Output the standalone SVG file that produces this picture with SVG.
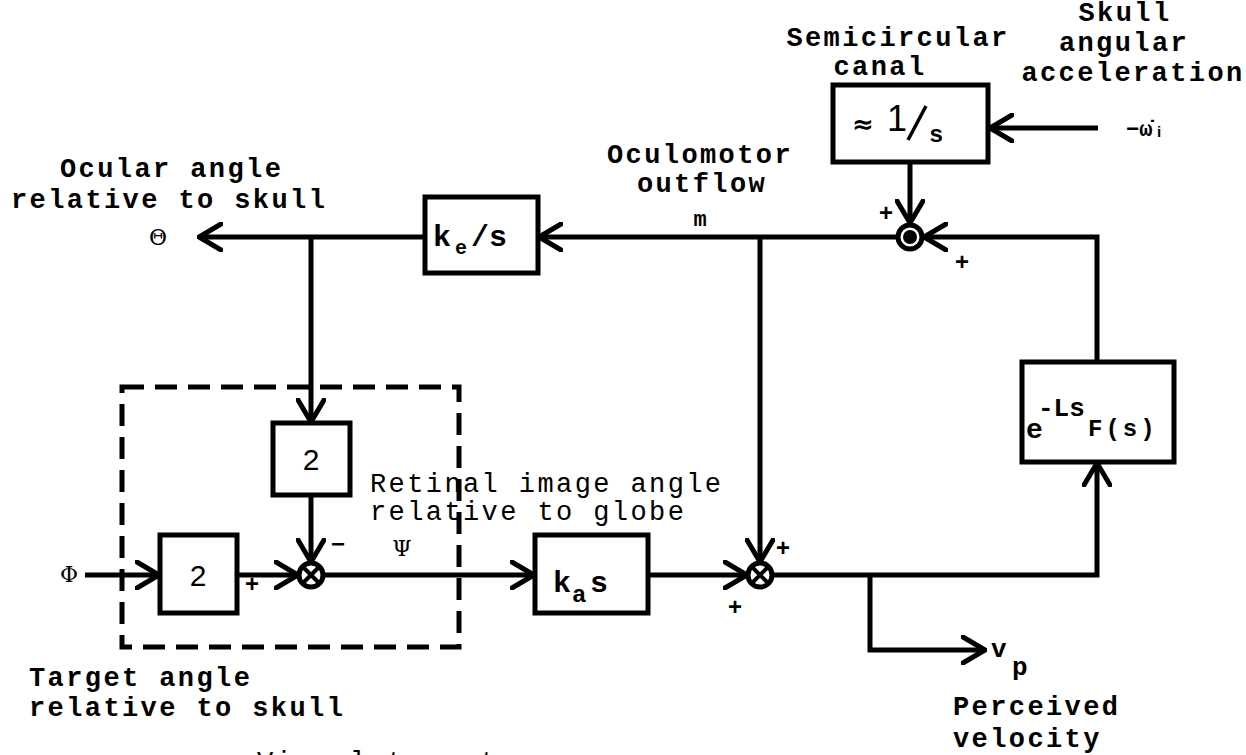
<svg xmlns="http://www.w3.org/2000/svg" width="1246" height="755" viewBox="0 0 1246 755">
<defs>
<marker id="arr" viewBox="0 0 26 30" refX="24" refY="15" markerWidth="26" markerHeight="30" markerUnits="userSpaceOnUse" orient="auto">
<path d="M2,2 L24,15 L2,28" fill="none" stroke="#000" stroke-width="5" stroke-linecap="round" stroke-linejoin="miter"/>
</marker>
<style>
.box{fill:#fff;stroke:#000;stroke-width:5}
.ln{fill:none;stroke:#000;stroke-width:5}
.dash{fill:none;stroke:#000;stroke-width:5;stroke-dasharray:22 11}
.sum{fill:#fff;stroke:#000;stroke-width:5}
.x{stroke:#000;stroke-width:4}
.b{font-family:"Liberation Mono",monospace;font-weight:bold;font-size:27px;letter-spacing:2.4px;fill:#000}
.n{font-family:"Liberation Mono",monospace;font-size:27px;letter-spacing:2.4px;fill:#000}
.m{font-family:"Liberation Mono",monospace;font-weight:bold;fill:#000}
.sym{font-family:"DejaVu Serif",serif;font-size:22px;fill:#000}
.sg{font-family:"Liberation Sans",sans-serif;font-weight:bold;font-size:24px;fill:#000}
.two{font-family:"Liberation Sans",sans-serif;font-size:30px;fill:#000}
</style>
</defs>
<rect width="1246" height="755" fill="#fff"/>

<g id="connectors">
<line class="ln" x1="1098" y1="128" x2="990" y2="128" marker-end="url(#arr)"/>
<line class="ln" x1="910" y1="162" x2="910" y2="223" marker-end="url(#arr)"/>
<polyline class="ln" points="1097,362 1097,237 924,237" marker-end="url(#arr)"/>
<line class="ln" x1="897" y1="237" x2="539" y2="237" marker-end="url(#arr)"/>
<line class="ln" x1="425" y1="237" x2="199" y2="237" marker-end="url(#arr)"/>
<line class="ln" x1="311" y1="237" x2="311" y2="422" marker-end="url(#arr)"/>
<line class="ln" x1="311" y1="495" x2="311" y2="562" marker-end="url(#arr)"/>
<line class="ln" x1="85" y1="575" x2="159" y2="575" marker-end="url(#arr)"/>
<line class="ln" x1="237" y1="575" x2="298" y2="575" marker-end="url(#arr)"/>
<line class="ln" x1="324" y1="575" x2="534" y2="575" marker-end="url(#arr)"/>
<line class="ln" x1="648" y1="575" x2="747" y2="575" marker-end="url(#arr)"/>
<line class="ln" x1="760" y1="237" x2="760" y2="562" marker-end="url(#arr)"/>
<polyline class="ln" points="773,575 1097,575 1097,463" marker-end="url(#arr)"/>
<polyline class="ln" points="870,575 870,650 985,650" marker-end="url(#arr)"/>
</g>

<g id="visual-target-group">
<rect class="dash" x="122" y="387" width="337" height="260"/>
</g>

<g id="semicircular-canal">
<rect class="box" x="833" y="85" width="155" height="77"/>
<text class="b" x="898" y="46" text-anchor="middle">Semicircular</text>
<text class="b" x="880" y="75" text-anchor="middle">canal</text>
<text x="852" y="133" font-family="DejaVu Sans,sans-serif" font-size="26" font-weight="bold">≈</text>
<text x="887" y="131" font-family="Liberation Sans,sans-serif" font-size="36">1</text>
<line x1="926" y1="106" x2="908" y2="140" stroke="#000" stroke-width="3.5"/>
<text x="929" y="142" class="m" font-size="24">s</text>
</g>

<g id="skull-input">
<text class="b" x="1125" y="21" text-anchor="middle">Skull</text>
<text class="b" x="1124" y="51" text-anchor="middle">angular</text>
<text class="b" x="1133" y="81" text-anchor="middle">acceleration</text>
<text x="1126" y="136" class="m" font-size="22">−ω̇ᵢ</text>
</g>

<g id="sum-top">
<circle class="sum" cx="910" cy="237" r="12"/>
<circle cx="910" cy="237" r="7" fill="#000"/>
<text class="sg" x="879" y="221">+</text>
<text class="sg" x="955" y="270">+</text>
</g>

<g id="oculomotor-label">
<text class="b" x="700" y="163" text-anchor="middle">Oculomotor</text>
<text class="b" x="702" y="192" text-anchor="middle">outflow</text>
<text class="m" x="700" y="226" text-anchor="middle" font-size="22">m</text>
</g>

<g id="ke-box">
<rect class="box" x="425" y="197" width="113" height="76"/>
<text class="m" x="433" y="246" font-size="30">k</text>
<text class="m" x="455" y="254" font-size="20">e</text>
<text class="m" x="471" y="246" font-size="30">/s</text>
</g>

<g id="theta-output">
<text class="sym" x="158" y="245" text-anchor="middle">Θ</text>
<text class="b" x="60" y="177">Ocular angle</text>
<text class="b" x="11" y="208">relative to skull</text>
</g>

<g id="box2-upper">
<rect class="box" x="273" y="423" width="77" height="72"/>
<text class="two" x="311" y="470" text-anchor="middle">2</text>
</g>

<g id="phi-input">
<text class="sym" x="69" y="582" text-anchor="middle">Φ</text>
<text class="b" x="29" y="686">Target angle</text>
<text class="b" x="29" y="716">relative to skull</text>
</g>

<g id="box2-lower">
<rect class="box" x="160" y="535" width="77" height="78"/>
<text class="two" x="198" y="586" text-anchor="middle">2</text>
</g>

<g id="sum-left">
<circle class="sum" cx="311" cy="575" r="12"/>
<line class="x" x1="303" y1="567" x2="319" y2="583"/>
<line class="x" x1="319" y1="567" x2="303" y2="583"/>
<text class="sg" x="245" y="592">+</text>
<text class="sg" x="331" y="552">−</text>
<text class="sym" x="402" y="556" text-anchor="middle" font-size="18">Ψ</text>
</g>

<g id="retinal-label">
<text class="n" x="370" y="492">Retinal image angle</text>
<text class="n" x="370" y="520">relative to globe</text>
</g>

<g id="ka-box">
<rect class="box" x="535" y="535" width="113" height="78"/>
<text class="m" x="553" y="592" font-size="30">k</text>
<text class="m" x="572" y="602" font-size="24">a</text>
<text class="m" x="590" y="592" font-size="30">s</text>
</g>

<g id="sum-middle">
<circle class="sum" cx="760" cy="575" r="12"/>
<line class="x" x1="752" y1="567" x2="768" y2="583"/>
<line class="x" x1="768" y1="567" x2="752" y2="583"/>
<text class="sg" x="776" y="556">+</text>
<text class="sg" x="728" y="615">+</text>
</g>

<g id="delay-box">
<rect class="box" x="1022" y="362" width="152" height="100"/>
<text class="m" x="1026" y="438" font-size="28">e</text>
<text class="m" x="1038" y="416" font-size="26">-Ls</text>
<text class="m" x="1088" y="436" font-size="24" letter-spacing="3">F(s)</text>
</g>

<g id="vp-output">
<text class="m" x="991" y="657" font-size="26">v</text>
<text class="m" x="1012" y="675" font-size="26">p</text>
<text class="b" x="953" y="715">Perceived</text>
<text class="b" x="953" y="747">velocity</text>
</g>

<g id="bottom-caption">
<text class="n" x="257" y="770">Visual target</text>
</g>
</svg>
